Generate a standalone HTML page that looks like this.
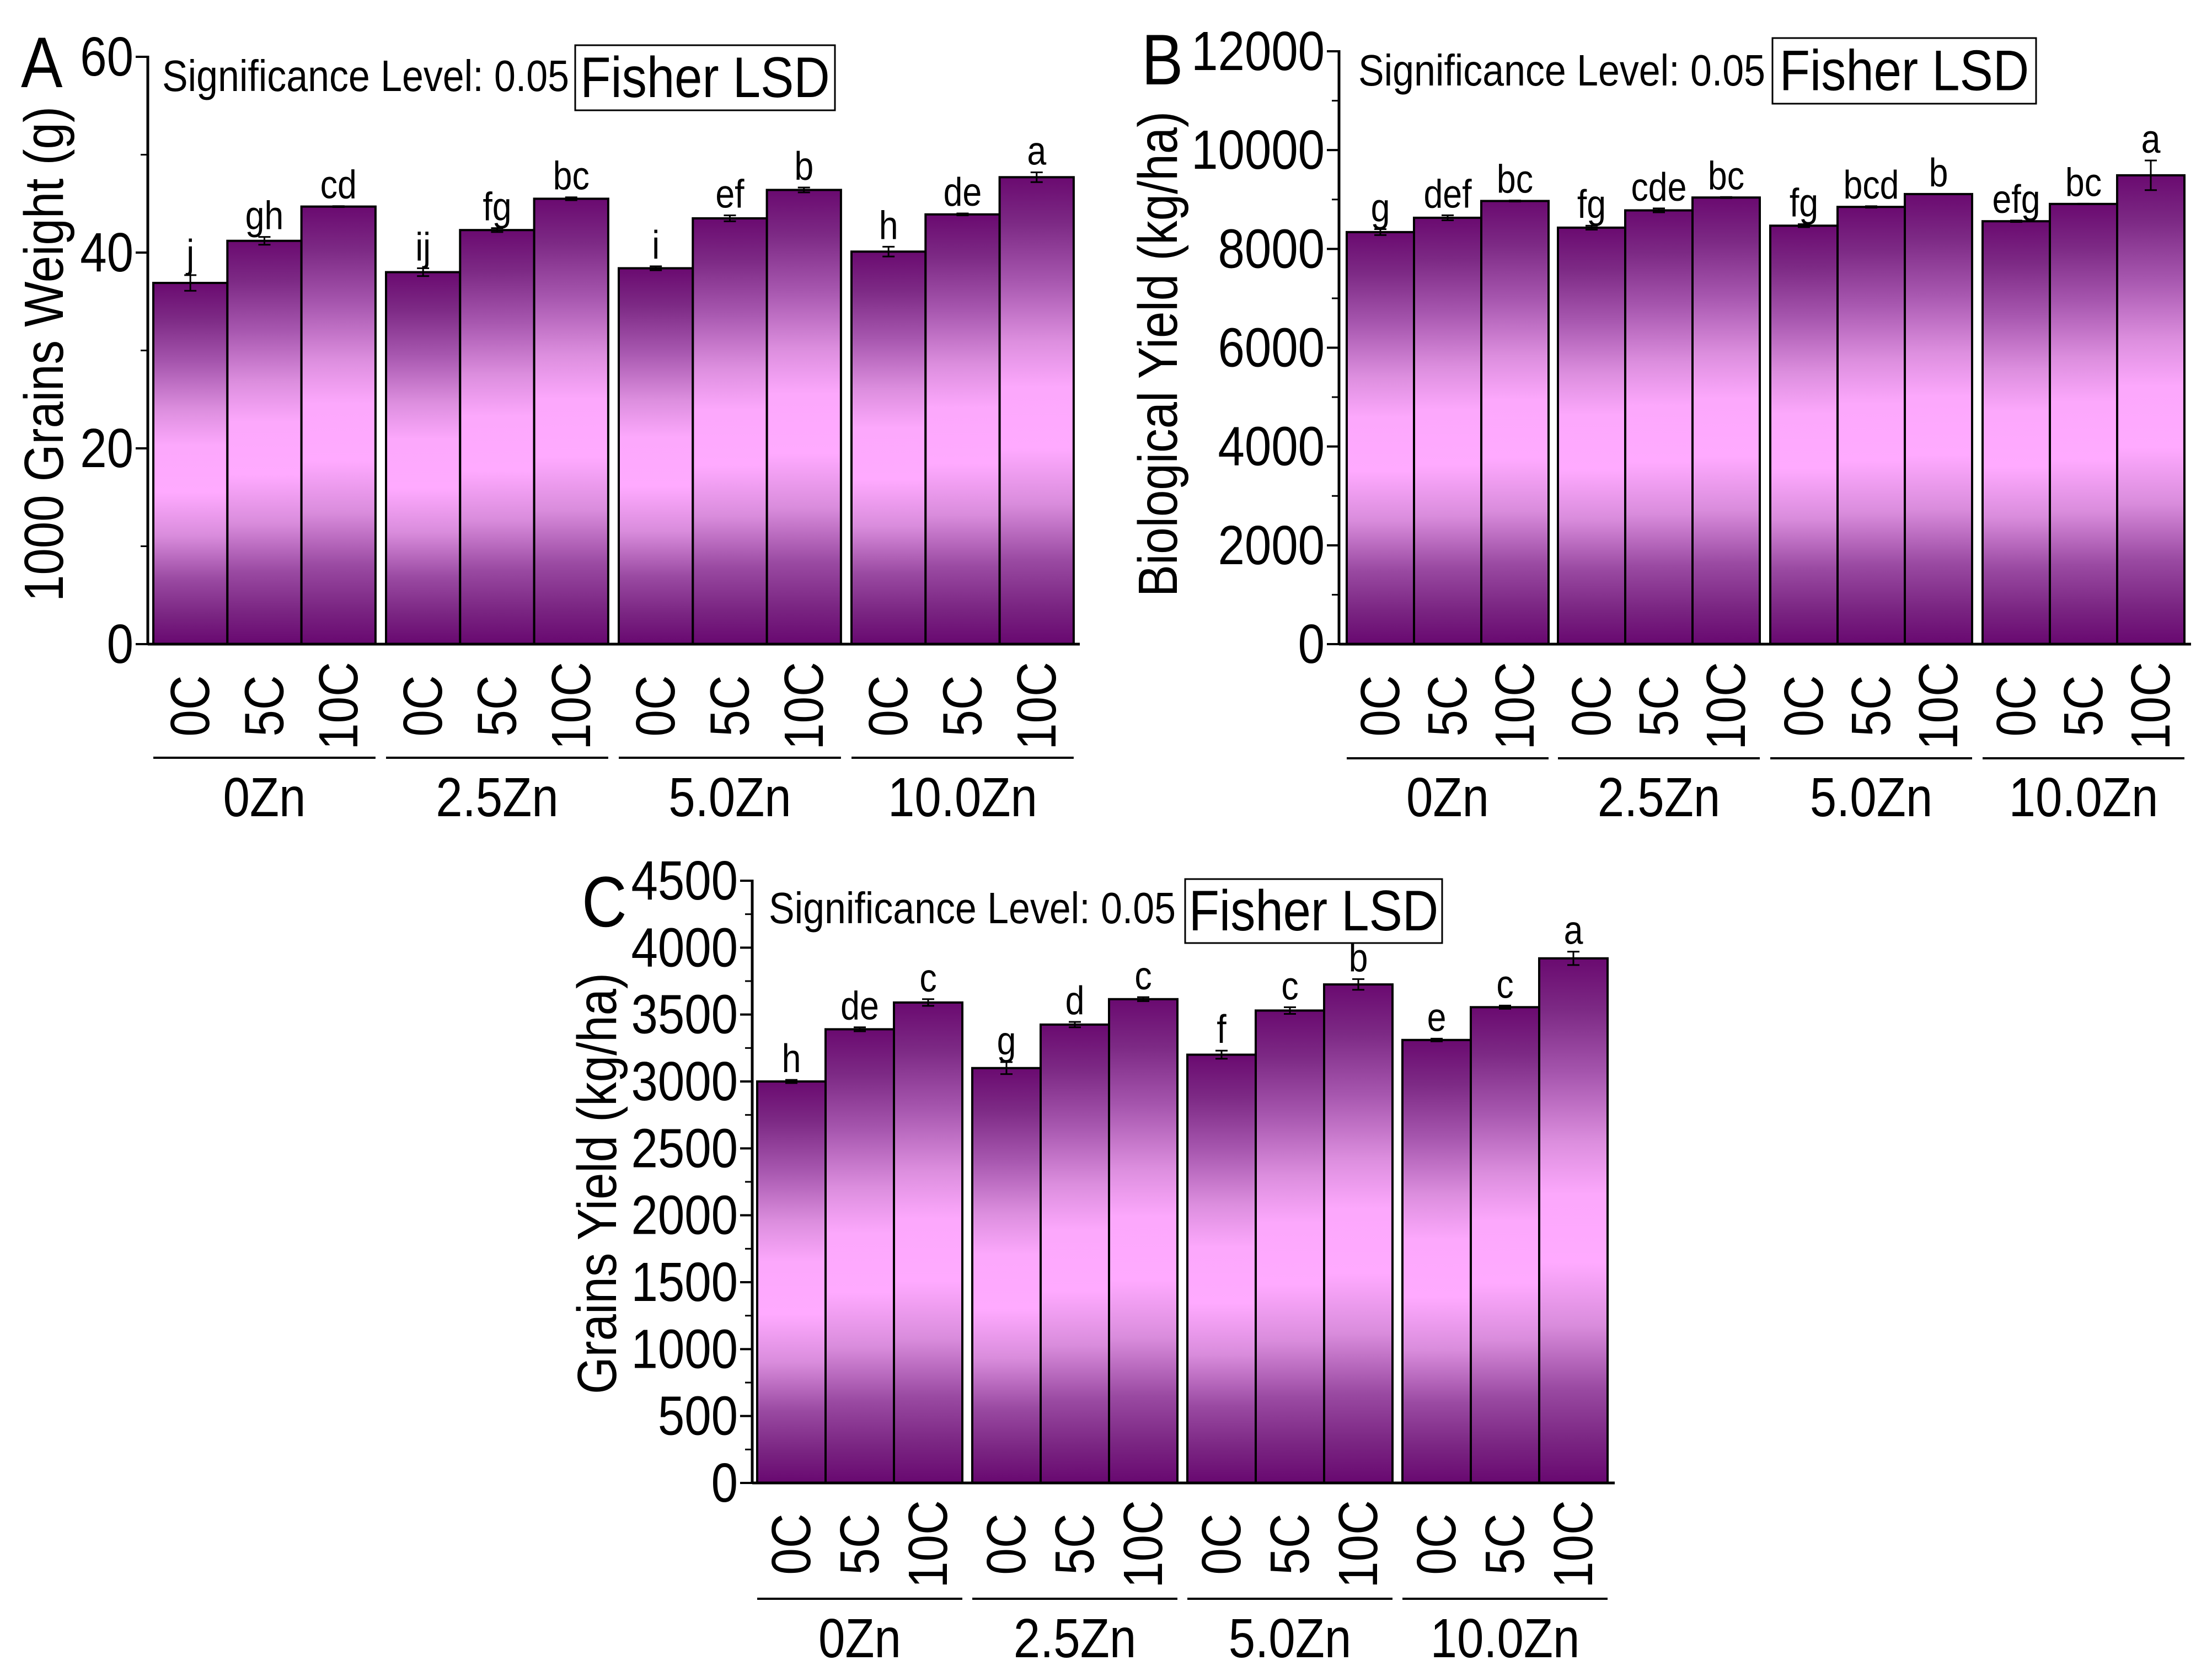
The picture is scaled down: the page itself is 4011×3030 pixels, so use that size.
<!DOCTYPE html>
<html><head><meta charset="utf-8"><style>
html,body{margin:0;padding:0;background:#fff}
svg{display:block}
text{font-family:"Liberation Sans",Arial,sans-serif;fill:#000}
</style></head><body>
<svg id="chart" width="4011" height="3030" viewBox="0 0 4011 3030" xmlns="http://www.w3.org/2000/svg">
<defs>
<linearGradient id="barGrad" x1="0" y1="0" x2="0" y2="1">
<stop offset="0" stop-color="#6a0a70"/>
<stop offset="0.1" stop-color="#7d2a85"/>
<stop offset="0.22" stop-color="#a656ae"/>
<stop offset="0.35" stop-color="#dc8ede"/>
<stop offset="0.45" stop-color="#fca8fc"/>
<stop offset="0.58" stop-color="#ffaaff"/>
<stop offset="0.7" stop-color="#d98cdc"/>
<stop offset="0.82" stop-color="#9a4aa2"/>
<stop offset="0.92" stop-color="#7a2582"/>
<stop offset="1" stop-color="#680870"/>
</linearGradient>
</defs>
</svg>
<script>
const categories = ["0C","5C","10C"];
const groups = ["0Zn","2.5Zn","5.0Zn","10.0Zn"];
const aValues = [36.9,41.2,44.7, 38.0,42.3,45.5, 38.4,43.5,46.4, 40.1,43.9,47.7];
const aErrors = [0.8,0.4,0.05, 0.4,0.2,0.15, 0.2,0.3,0.25, 0.5,0.1,0.5];
const aLetters = ["j","gh","cd","ij","fg","bc","i","ef","b","h","de","a"];
const aTicks = [0,20,40,60];
const bValues = [8340,8630,8970, 8430,8780,9040, 8470,8850,9110, 8560,8910,9490];
const bErrors = [60,50,10, 40,40,10, 30,15,0, 15,5,300];
const bLetters = ["g","def","bc","fg","cde","bc","fg","bcd","b","efg","bc","a"];
const bTicks = [0,2000,4000,6000,8000,10000,12000];
const cValues = [3000,3390,3590, 3100,3425,3615, 3200,3530,3725, 3310,3555,3920];
const cErrors = [12,15,25, 45,20,15, 30,25,40, 10,12,50];
const cLetters = ["h","de","c","g","d","c","f","c","b","e","c","a"];
const cTicks = [0,500,1000,1500,2000,2500,3000,3500,4000,4500];

const NS = "http://www.w3.org/2000/svg";
const svg = document.getElementById("chart");
const CONDENSE = 0.87;
function mk(tag, attrs, parent, txt){
  const e = document.createElementNS(NS, tag);
  for (const k in attrs) e.setAttribute(k, attrs[k]);
  if (txt !== undefined) e.textContent = txt;
  (parent||svg).appendChild(e);
  if (tag === "text" && !attrs.textLength) {
    const w = e.getComputedTextLength();
    if (w > 0) { e.setAttribute("textLength", w*CONDENSE); e.setAttribute("lengthAdjust","spacingAndGlyphs"); }
  }
  return e;
}

function drawPanel(p, values, errors, letters, ticks){
  const g = mk("g", {});
  
  
  const ymax = ticks[ticks.length-1];
  const yScale = v => p.y0 - (v/ymax)*(p.y0 - p.yTop);
  values.forEach((v,i)=>{
    const gi = Math.floor(i/3), ci = i%3;
    const x = p.groupStarts[gi] + ci*p.barW;
    const yv = yScale(v);
    const r = mk("rect", {x:x, y:yv, width:p.barW, height:p.y0-yv, fill:"url(#barGrad)", stroke:"#000", "stroke-width":4}, g);
    
    
    const cx = x + p.barW/2;
    const e = errors[i];
    const eg = mk("g", {stroke:"#000","stroke-width":3}, g);
    
    
    mk("line",{x1:cx,x2:cx,y1:yScale(v+e),y2:yScale(v-e)},eg);
    mk("line",{x1:cx-11,x2:cx+11,y1:yScale(v+e),y2:yScale(v+e)},eg);
    mk("line",{x1:cx-11,x2:cx+11,y1:yScale(v-e),y2:yScale(v-e)},eg);
    const t = mk("text",{x:cx, y:yScale(v+e)-14, "text-anchor":"middle","font-size":72}, g, letters[i]);
    
    
    const cl = mk("text",{x:0,y:0,"text-anchor":"middle","dominant-baseline":"central","font-size":100,
      transform:`translate(${cx},${p.catY}) rotate(-90)`}, g, categories[ci]);
    
    
  });
  groups.forEach((name,gi)=>{
    const x1 = p.groupStarts[gi], x2 = x1 + 3*p.barW;
    const l = mk("line",{x1:x1,x2:x2,y1:p.lineY,y2:p.lineY,stroke:"#000","stroke-width":4},g);
    
    
    const t = mk("text",{x:(x1+x2)/2,y:p.groupY,"text-anchor":"middle","font-size":100},g,name);
    
    
  });
  const ya = mk("line",{x1:p.axisX,x2:p.axisX,y1:p.yTop-2,y2:p.y0+2,stroke:"#000","stroke-width":5},g);
  
  
  const xa = mk("line",{x1:p.axisX,x2:p.axisEnd,y1:p.y0,y2:p.y0,stroke:"#000","stroke-width":5},g);
  
  
  const step = ticks[1]-ticks[0];
  ticks.forEach((tv,ti)=>{
    const y = yScale(tv);
    mk("line",{x1:p.axisX-22,x2:p.axisX,y1:y,y2:y,stroke:"#000","stroke-width":4},g);
    const t = mk("text",{x:p.axisX-26,y:y,"text-anchor":"end","dominant-baseline":"central","font-size":100},g,String(tv));
    
    
    if (ti < ticks.length-1){
      const ym = yScale(tv+step/2);
      mk("line",{x1:p.axisX-13,x2:p.axisX,y1:ym,y2:ym,stroke:"#000","stroke-width":3},g);
    }
  });
  const yt = mk("text",{x:0,y:0,"text-anchor":"middle","dominant-baseline":"central","font-size":100,
    transform:`translate(${p.titleX},${p.titleY}) rotate(-90)`},g,p.title);
  
  
  const pl = mk("text",{x:p.letterX,y:p.letterY,"font-size":130},g,p.id);
  
  
  const st = mk("text",{x:p.sigX,y:p.sigY,"font-size":80,"textLength":p.sigW,"lengthAdjust":"spacingAndGlyphs"},g,"Significance Level: 0.05");
  
  
  const bx = mk("rect",{x:p.box[0],y:p.box[1],width:p.box[2]-p.box[0],height:p.box[3]-p.box[1],fill:"#fff",stroke:"#000","stroke-width":3},g);
  
  
  const ft = mk("text",{x:(p.box[0]+p.box[2])/2,y:(p.box[1]+p.box[3])/2,"text-anchor":"middle","dominant-baseline":"central","font-size":104},g,"Fisher LSD");
  
  
}

drawPanel({id:"A", axisX:268, axisEnd:1958, yTop:103, y0:1168, groupStarts:[278,700,1122,1544], barW:134.3,
  catY:1280, lineY:1374, groupY:1480, titleX:80, titleY:642, title:"1000 Grains Weight (g)",
  letterX:38, letterY:158, sigX:294, sigY:165, sigW:738, box:[1043,82,1514,200]},
  aValues, aErrors, aLetters, aTicks);
drawPanel({id:"B", axisX:2428, axisEnd:3973, yTop:93, y0:1168, groupStarts:[2442,2825,3210,3595], barW:122,
  catY:1280, lineY:1375, groupY:1480, titleX:2100, titleY:642, title:"Biological Yield (kg/ha)",
  letterX:2070, letterY:153, sigX:2463, sigY:155, sigW:738, box:[3214,69,3692,188]},
  bValues, bErrors, bLetters, bTicks);
drawPanel({id:"C", axisX:1364, axisEnd:2928, yTop:1597, y0:2689, groupStarts:[1373,1763,2153,2543], barW:124,
  catY:2800, lineY:2899, groupY:3005, titleX:1083, titleY:2146, title:"Grains Yield (kg/ha)",
  letterX:1055, letterY:1680, sigX:1394, sigY:1674, sigW:738, box:[2149,1594,2615,1710]},
  cValues, cErrors, cLetters, cTicks);
</script>
</body></html>
